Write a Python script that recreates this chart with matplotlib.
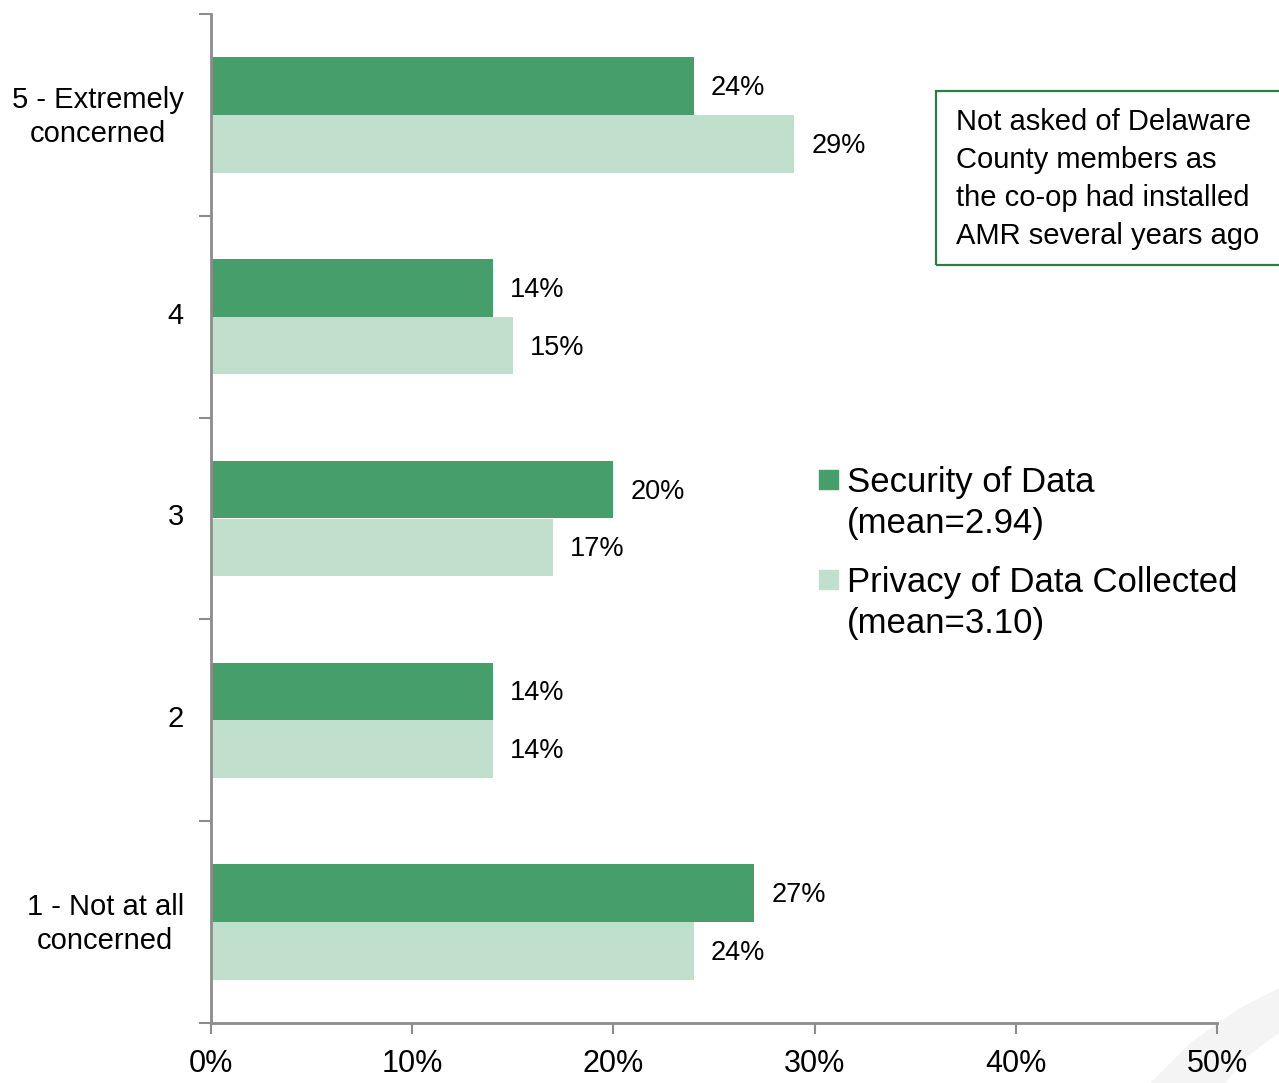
import numpy as np
import matplotlib.pyplot as plt
from matplotlib.patches import Rectangle, Polygon

## data
categories = ['1 - Not at all\nconcerned', '2', '3', '4', '5 - Extremely\nconcerned']
security = [27, 14, 20, 14, 24]
privacy = [24, 14, 17, 15, 29]
series_names = ['Security of Data\n(mean=2.94)', 'Privacy of Data Collected\n(mean=3.10)']
xticks = [0, 10, 20, 30, 40, 50]
note = 'Not asked of Delaware\nCounty members as\nthe co-op had installed\nAMR several years ago'

dark_green = '#469e6a'
light_green = '#c0dfcd'
axis_grey = '#8c8c8c'

plt.rcParams['font.family'] = ['Liberation Sans', 'DejaVu Sans']

fig = plt.figure(figsize=(12.79, 10.83), dpi=100)
ax = fig.add_axes([211 / 1279, 60 / 1083, 1006 / 1279, 1009 / 1083])

y = np.arange(len(categories))
h = 0.285
off = 0.143
ax.barh(y + off, security, height=h, color=dark_green, label=series_names[0])
ax.barh(y - off, privacy, height=h, color=light_green, label=series_names[1])

for yi, v in zip(y, security):
    ax.text(v + 0.85, yi + off - 0.01, '%d%%' % v, va='center', ha='left', fontsize=19.5)
for yi, v in zip(y, privacy):
    ax.text(v + 0.85, yi - off - 0.01, '%d%%' % v, va='center', ha='left', fontsize=19.5)

ax.set_xlim(0, 50)
ax.set_ylim(-0.5, len(categories) - 0.5)

# x axis
ax.set_xticks(xticks)
ax.set_xticklabels(['%d%%' % t for t in xticks], fontsize=22)
ax.tick_params(axis='x', length=8, width=1.5, color=axis_grey, pad=11)

# y axis: tick marks on the band edges, labels at band centres
ax.set_yticks(np.arange(-0.5, len(categories), 1.0))
ax.set_yticklabels([])
ax.tick_params(axis='y', which='major', length=9, width=1.5, color=axis_grey)
ax.set_yticks(y + 0.02, minor=True)
ax.set_yticklabels(categories, minor=True, fontsize=21, ha='right',
                   multialignment='center', linespacing=1.27)
ax.tick_params(axis='y', which='minor', length=0, pad=19.5)

for s in ['top', 'right']:
    ax.spines[s].set_visible(False)
for s in ['left', 'bottom']:
    ax.spines[s].set_color(axis_grey)
    ax.spines[s].set_linewidth(2)

# legend drawn by hand
W, H = 1279.0, 1083.0
for i, (name, col) in enumerate(zip(series_names, [dark_green, light_green])):
    top = 470 + i * 100
    fig.patches.append(Rectangle((819 / W, 1 - (top + 19) / H), 19 / W, 19 / H,
                                 transform=fig.transFigure, color=col))
    fig.text(847 / W, 1 - (top - 4) / H, name, fontsize=25, va='top', ha='left',
             linespacing=1.3)

# note box
fig.patches.append(Rectangle((936 / W, 1 - 265 / H), 360 / W, 174 / H,
                             transform=fig.transFigure, fill=False,
                             edgecolor='#2a7d45', linewidth=1.6))
fig.text(956 / W, 1 - 108 / H, note, fontsize=21, va='top', ha='left', linespacing=1.45)

# faint swoosh in the corner
fig.patches.append(Polygon([(1150 / W, 0), (1190 / W, 40 / H), (1240 / W, 75 / H),
                            (1279 / W, 95 / H), (1279 / W, 50 / H), (1245 / W, 25 / H),
                            (1225 / W, 0)],
                           closed=True, transform=fig.transFigure,
                           facecolor='#f4f4f4', edgecolor='none', zorder=-1))

fig.savefig('out.png', dpi=100)
